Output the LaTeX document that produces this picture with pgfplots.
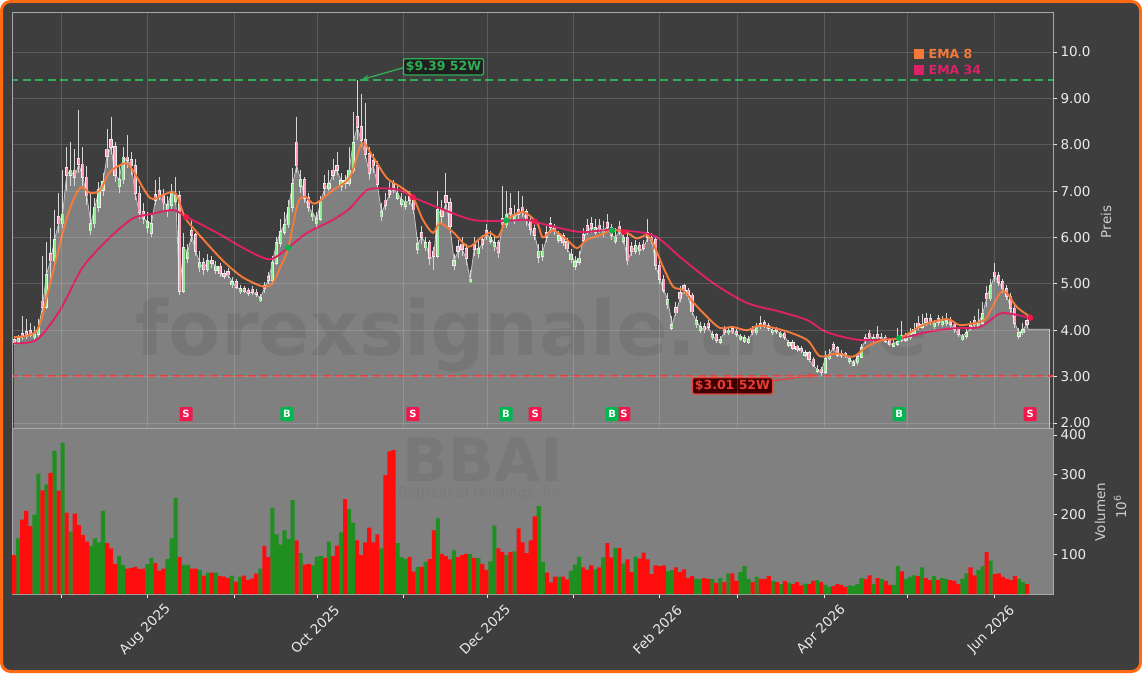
\documentclass[border=0pt]{standalone}
\usepackage{fontspec}
\setmainfont{DejaVu Sans}
\usepackage{pgfplots}
\usepackage{pgfplotstable}
\pgfplotsset{compat=1.18}
\usetikzlibrary{arrows.meta}
\definecolor{bgdark}{HTML}{3E3E3E}
\definecolor{frameorange}{HTML}{FF6A13}
\definecolor{areagray}{HTML}{808080}
\definecolor{arealine}{HTML}{C4C4C4}
\definecolor{wick}{HTML}{D6D6D6}
\definecolor{candleedge}{HTML}{EDEDED}
\definecolor{upbody}{HTML}{90EE90}
\definecolor{downbody}{HTML}{FF9CB6}
\definecolor{volgreen}{HTML}{1F8F1F}
\definecolor{volred}{HTML}{FF0D0D}
\definecolor{emaeight}{HTML}{F47A3A}
\definecolor{emathirtyfour}{HTML}{DC2166}
\definecolor{sigred}{HTML}{F0184D}
\definecolor{siggreen}{HTML}{00B74F}
\definecolor{hiline}{HTML}{2EAE55}
\definecolor{loline}{HTML}{E0443C}
\definecolor{ticktext}{HTML}{EBEBEB}
\definecolor{labeltext}{HTML}{CFCFCF}
\definecolor{spine}{HTML}{A8A8A8}
\definecolor{wmgray}{HTML}{404040}

\pgfplotstableread{
i o h l c v
0 3.80 3.85 3.68 3.74 98
1 3.74 3.90 3.70 3.82 140
2 3.92 4.30 3.80 3.86 187
3 3.96 4.25 3.82 3.88 209
4 3.98 4.15 3.85 3.90 171
5 3.84 4.10 3.80 3.91 200
6 3.91 4.25 3.85 4.05 303
7 4.62 5.60 4.40 4.50 261
8 4.50 5.90 4.45 5.20 276
9 5.65 6.20 5.10 5.50 305
10 5.50 6.60 5.40 5.95 360
11 6.45 6.95 6.10 6.30 260
12 6.30 7.45 6.20 6.50 381
13 7.50 7.95 7.00 7.35 205
14 7.35 8.05 7.10 7.45 157
15 7.45 7.90 7.10 7.30 202
16 7.70 8.75 7.40 7.58 173
17 7.58 7.95 7.10 7.30 148
18 7.30 7.55 6.70 6.90 132
19 6.15 6.95 6.05 6.30 121
20 6.30 6.85 6.20 6.65 140
21 6.65 7.20 6.55 7.02 130
22 7.02 7.40 6.90 7.20 209
23 7.90 8.35 7.50 7.75 128
24 8.10 8.60 7.80 7.95 115
25 7.95 8.05 7.20 7.35 76
26 7.10 7.55 6.95 7.25 96
27 7.25 7.95 7.15 7.73 73
28 7.73 8.20 7.50 7.67 64
29 7.67 7.85 7.35 7.55 66
30 7.55 7.70 6.80 6.95 68
31 6.95 7.10 6.40 6.55 63
32 6.55 6.75 6.30 6.42 64
33 6.22 6.55 6.10 6.34 76
34 6.10 6.50 6.00 6.30 91
35 6.92 7.25 6.70 6.80 78
36 7.00 7.30 6.80 6.90 59
37 6.90 7.05 6.60 6.75 64
38 6.58 6.90 6.45 6.70 88
39 6.70 7.15 6.60 6.96 140
40 6.78 7.30 6.70 6.90 242
41 6.90 7.00 4.75 4.85 93
42 4.85 6.10 4.80 5.78 73
43 5.55 5.85 5.45 5.68 73
44 6.15 6.40 5.90 6.05 64
45 6.05 6.10 5.60 5.70 64
46 5.35 5.70 5.25 5.45 61
47 5.45 5.55 5.20 5.32 46
48 5.32 5.65 5.25 5.50 54
49 5.50 5.60 5.35 5.45 54
50 5.30 5.50 5.22 5.38 54
51 5.38 5.45 5.15 5.22 45
52 5.22 5.30 5.10 5.17 44
53 5.26 5.35 5.12 5.20 40
54 4.98 5.15 4.92 5.05 46
55 5.05 5.10 4.88 4.93 31
56 4.83 4.98 4.78 4.89 44
57 4.89 4.95 4.80 4.85 46
58 4.85 4.92 4.74 4.80 35
59 4.88 4.95 4.76 4.82 39
60 4.82 4.88 4.72 4.78 51
61 4.64 4.78 4.60 4.70 64
62 4.96 5.05 4.80 4.90 121
63 5.15 5.25 5.00 5.08 93
64 5.08 5.60 5.02 5.45 217
65 5.45 6.00 5.40 5.88 150
66 5.88 6.40 5.80 6.12 124
67 6.12 6.55 6.05 6.28 160
68 6.28 6.80 6.20 6.65 139
69 6.65 7.50 6.55 7.15 237
70 8.05 8.60 7.40 7.55 135
71 7.10 7.45 6.95 7.25 103
72 7.25 7.30 6.75 6.85 74
73 6.85 6.95 6.55 6.65 76
74 6.45 6.70 6.35 6.52 72
75 6.30 6.55 6.20 6.40 94
76 6.40 6.90 6.35 6.78 95
77 7.15 7.35 6.90 7.07 91
78 7.07 7.45 7.00 7.15 132
79 7.45 7.70 7.25 7.35 95
80 7.55 7.85 7.35 7.45 122
81 7.10 7.40 7.00 7.22 155
82 7.22 7.35 7.05 7.17 239
83 7.17 7.95 7.10 7.45 214
84 7.45 8.70 7.40 8.04 179
85 8.60 9.39 8.10 8.38 135
86 8.38 9.10 7.95 8.10 98
87 8.10 8.90 7.70 7.80 130
88 7.80 7.95 7.25 7.38 167
89 7.65 7.80 7.40 7.55 130
90 7.55 7.65 7.05 7.15 150
91 6.45 6.75 6.35 6.55 115
92 6.80 6.95 6.60 6.70 299
93 7.00 7.20 6.85 6.93 359
94 7.15 7.25 6.95 7.05 362
95 6.85 7.10 6.80 6.95 128
96 6.72 6.95 6.65 6.82 93
97 6.68 6.90 6.60 6.76 88
98 6.90 7.00 6.70 6.80 93
99 6.80 6.88 6.50 6.60 56
100 5.75 6.00 5.65 5.87 68
101 6.10 6.25 5.85 6.00 68
102 5.78 6.00 5.70 5.88 81
103 5.88 5.95 5.40 5.55 88
104 5.70 5.80 5.30 5.60 160
105 5.60 7.00 5.55 6.60 190
106 6.60 6.80 6.30 6.46 101
107 6.90 7.40 6.60 6.75 95
108 6.75 6.85 6.10 6.25 87
109 5.40 5.65 5.30 5.50 110
110 5.80 5.95 5.55 5.70 93
111 5.85 6.00 5.60 5.75 98
112 5.75 5.85 5.40 5.55 101
113 5.05 5.30 5.02 5.10 101
114 5.85 6.00 5.60 5.75 91
115 5.65 5.95 5.55 5.75 91
116 5.95 6.05 5.75 5.85 76
117 6.15 6.30 5.95 6.07 61
118 5.92 6.15 5.85 6.00 82
119 5.80 6.05 5.70 5.88 172
120 5.88 5.95 5.55 5.68 115
121 6.40 7.10 6.15 6.28 106
122 6.28 7.00 6.20 6.50 98
123 6.62 6.95 6.40 6.52 106
124 6.38 6.70 6.30 6.46 107
125 6.60 7.00 6.40 6.50 165
126 6.65 6.90 6.45 6.55 130
127 6.55 6.62 6.25 6.36 103
128 6.36 6.45 6.05 6.18 135
129 6.18 6.30 5.95 6.05 195
130 5.58 5.85 5.45 5.70 221
131 5.60 5.85 5.50 5.70 81
132 6.10 6.25 5.90 6.00 54
133 6.30 6.45 6.10 6.22 29
134 6.22 6.30 6.05 6.16 44
135 5.95 6.15 5.88 6.04 44
136 6.04 6.10 5.82 5.90 44
137 5.90 5.98 5.68 5.76 37
138 5.52 5.75 5.45 5.62 58
139 5.38 5.60 5.30 5.47 74
140 5.47 5.70 5.40 5.55 94
141 6.05 6.20 5.85 5.94 67
142 6.25 6.40 6.05 6.16 61
143 6.30 6.45 6.10 6.20 72
144 6.12 6.40 6.05 6.21 62
145 6.26 6.40 6.10 6.19 67
146 6.08 6.35 6.00 6.16 92
147 6.32 6.50 6.15 6.22 128
148 6.22 6.30 5.95 6.05 92
149 5.92 6.20 5.85 6.00 116
150 6.24 6.35 6.05 6.14 116
151 5.92 6.15 5.85 6.00 77
152 6.00 6.10 5.40 5.50 87
153 5.80 5.90 5.60 5.70 55
154 5.70 5.95 5.65 5.82 94
155 5.82 5.90 5.62 5.72 89
156 5.85 5.95 5.70 5.77 104
157 6.10 6.40 5.90 6.00 87
158 6.00 6.10 5.85 5.95 50
159 5.95 6.00 5.30 5.40 72
160 5.40 5.50 5.00 5.10 70
161 5.10 5.20 4.80 4.87 72
162 4.55 4.80 4.45 4.65 57
163 4.05 4.30 4.00 4.12 60
164 4.48 4.60 4.30 4.38 67
165 4.80 4.95 4.60 4.68 55
166 4.95 5.00 4.78 4.86 62
167 4.86 4.92 4.65 4.75 40
168 4.75 4.80 4.32 4.40 45
169 4.12 4.30 4.05 4.20 38
170 4.00 4.18 3.95 4.08 38
171 4.08 4.15 3.95 4.01 40
172 4.15 4.22 4.00 4.07 38
173 3.84 3.98 3.80 3.90 38
174 3.90 3.95 3.72 3.78 28
175 3.74 3.88 3.70 3.80 40
176 4.02 4.10 3.90 3.95 30
177 3.95 4.08 3.90 4.00 52
178 4.03 4.07 3.92 3.97 52
179 3.97 4.02 3.86 3.91 33
180 3.80 3.92 3.76 3.87 55
181 3.77 3.90 3.72 3.83 70
182 3.74 3.88 3.70 3.80 38
183 4.02 4.10 3.90 3.95 30
184 3.95 4.15 3.90 4.07 43
185 4.14 4.30 4.02 4.08 38
186 4.16 4.22 4.05 4.10 38
187 4.10 4.15 3.98 4.05 45
188 3.95 4.08 3.90 4.00 33
189 4.04 4.08 3.92 3.98 30
190 3.88 3.98 3.84 3.93 25
191 3.93 3.97 3.80 3.85 33
192 3.68 3.80 3.64 3.73 28
193 3.73 3.78 3.58 3.62 25
194 3.65 3.68 3.54 3.59 30
195 3.60 3.65 3.52 3.56 22
196 3.46 3.58 3.42 3.51 26
197 3.51 3.56 3.32 3.37 25
198 3.37 3.42 3.20 3.24 33
199 3.12 3.25 3.08 3.16 35
200 3.16 3.20 3.01 3.10 30
201 3.10 3.55 3.06 3.39 23
202 3.39 3.60 3.35 3.47 18
203 3.68 3.75 3.55 3.62 20
204 3.62 3.66 3.42 3.47 25
205 3.50 3.58 3.40 3.46 23
206 3.50 3.54 3.40 3.45 18
207 3.33 3.45 3.28 3.38 22
208 3.25 3.36 3.22 3.30 20
209 3.30 3.50 3.26 3.42 25
210 3.42 3.70 3.40 3.62 40
211 3.85 3.92 3.70 3.78 38
212 3.93 4.00 3.80 3.86 47
213 3.78 3.92 3.74 3.84 25
214 3.90 4.10 3.80 3.84 40
215 3.80 3.95 3.76 3.85 38
216 3.85 3.90 3.72 3.77 33
217 3.77 3.80 3.65 3.69 23
218 3.66 3.80 3.63 3.72 23
219 3.70 4.05 3.66 3.75 70
220 3.88 4.20 3.74 3.78 57
221 3.78 3.95 3.74 3.84 38
222 3.84 4.05 3.80 3.93 43
223 3.93 4.15 3.88 4.01 47
224 4.15 4.30 4.00 4.07 45
225 4.07 4.35 4.02 4.12 67
226 4.25 4.38 4.10 4.17 40
227 4.25 4.35 4.12 4.17 35
228 4.08 4.22 4.03 4.15 45
229 4.25 4.32 4.10 4.17 35
230 4.12 4.30 4.08 4.19 40
231 4.14 4.38 4.10 4.21 38
232 4.21 4.28 4.05 4.13 35
233 4.13 4.18 3.95 4.02 33
234 4.02 4.06 3.85 3.92 25
235 3.80 3.92 3.76 3.87 38
236 3.87 4.05 3.82 3.95 52
237 4.10 4.20 3.98 4.04 67
238 4.20 4.30 4.05 4.12 47
239 4.08 4.45 4.04 4.16 60
240 4.16 4.60 4.12 4.35 70
241 4.78 4.95 4.50 4.68 106
242 4.68 5.10 4.62 4.95 84
243 5.25 5.45 5.05 5.17 50
244 5.17 5.25 4.95 5.04 52
245 5.04 5.10 4.80 4.90 43
246 4.90 4.98 4.65 4.73 38
247 4.73 4.80 4.35 4.47 35
248 4.47 4.55 4.05 4.15 45
249 3.88 4.05 3.82 3.95 38
250 3.95 4.15 3.90 4.01 30
251 4.20 4.30 4.05 4.13 25
}\ohlc

\pgfplotsset{
  commonx/.style={
    width=1041pt, scale only axis,
    xmin=-0.545, xmax=257.45,
    xtick={11.72,33.11,54.47,75.17,96.55,117.25,138.64,160.0,179.33,200.69,221.39,242.83},
    axis line style={draw=spine, line width=0.8pt},
    tick align=outside, major tick length=4pt,
    tick label style={font=\fontsize{13.5}{15}\selectfont, text=ticktext},
    ytick pos=right, yticklabel pos=right,
  },
  sigbox/.style={draw=none, mark=none, point meta=explicit symbolic, nodes near coords,
    every node near coord/.style={anchor=center, fill=#1, text=white,
      font=\bfseries\fontsize{10}{10}\selectfont, minimum width=13pt, minimum height=14pt,
      inner sep=0pt, rounded corners=1pt}},
  candlebar/.style 2 args={draw=none, mark=none, forget plot,
    error bars/.cd, y dir=plus, y explicit, error mark=none,
    error bar style={line width=#1, draw=#2, solid}},
}

\begin{document}
\begin{tikzpicture}
\useasboundingbox (0pt,0pt) rectangle (1142pt,673pt);
\fill[white] (0pt,0pt) rectangle (1142pt,673pt);
\draw[line width=3pt, draw=frameorange, fill=bgdark, rounded corners=9pt] (1.5pt,1.5pt) rectangle (1140.5pt,671.5pt);

% ---------------- price panel ----------------
\begin{axis}[commonx,
  at={(12pt,245pt)}, anchor=south west, height=416pt,
  ymin=1.892, ymax=10.862,
  axis background/.style={fill=bgdark},
  xticklabels={}, x tick style={draw=none},
  ytick={2,3,4,5,6,7,8,9,10},
  yticklabels={2.00,3.00,4.00,5.00,6.00,7.00,8.00,9.00,10.0},
  y tick style={draw=ticktext, line width=0.8pt},
  grid=major, major grid style={draw=white, draw opacity=0.15, line width=0.8pt},
  axis on top,
]
\addplot[fill=areagray, draw=none, forget plot] table[x=i, y=c] {\ohlc} \closedcycle;
\addplot[fill=areagray, draw=none, forget plot] coordinates {(251,0) (251,4.13) (251.3,4.02) (256.6,4.02) (256.6,0)} \closedcycle;
\node[anchor=base, font=\bfseries\fontsize{76}{76}\selectfont, text=wmgray, text opacity=0.14] at (axis cs:128.3,3.466) {forexsignale.trade};
\addplot[draw=arealine, line width=0.8pt, forget plot] table[x=i, y=c] {\ohlc};
\addplot[draw=arealine, line width=0.8pt, forget plot] coordinates {(251,4.13) (251.3,4.02) (256.6,4.02) (256.6,1.8)};

% 52-week lines
\addplot[draw=hiline, line width=1.6pt, dash pattern=on 8pt off 4.5pt, forget plot] coordinates {(-1,9.39) (260,9.39)};
\addplot[draw=loline, line width=1.6pt, dash pattern=on 8pt off 4.5pt, forget plot] coordinates {(-1,3.01) (260,3.01)};

% wicks
\addplot[candlebar={0.9pt}{wick}]
  table[x=i, y=l, y error expr=\thisrow{h}-\thisrow{l}] {\ohlc};
% body outlines
\addplot[candlebar={3.2pt}{candleedge}]
  table[x=i, y expr={min(\thisrow{o},\thisrow{c})-0.015}, y error expr={abs(\thisrow{c}-\thisrow{o})+0.03}] {\ohlc};
% up bodies
\addplot[candlebar={2.0pt}{upbody}]
  table[x=i, y expr={\thisrow{c}>=\thisrow{o} ? \thisrow{o} : nan}, y error expr={abs(\thisrow{c}-\thisrow{o})}] {\ohlc};
% down bodies
\addplot[candlebar={2.0pt}{downbody}]
  table[x=i, y expr={\thisrow{c}<\thisrow{o} ? \thisrow{c} : nan}, y error expr={abs(\thisrow{c}-\thisrow{o})}] {\ohlc};

% EMA 34
\addplot[draw=emathirtyfour, line width=1.9pt, smooth, forget plot] coordinates {
(0,3.72) (5.65,3.8) (11.4,4.44) (17.0,5.36) (23.7,6.0) (29.4,6.41) (33.7,6.5) (39.4,6.59) (42.8,6.44)
(50.3,6.1) (57.7,5.73) (63.4,5.53) (67.9,5.78) (72.6,6.1) (79.0,6.38) (83.2,6.63) (87.4,7.02)
(91.4,7.06) (95.6,7.02) (98.8,6.87) (105.5,6.63) (113.7,6.38) (121.9,6.36) (127.1,6.38) (132.0,6.27)
(140.2,6.12) (148.4,6.16) (158.3,6.05) (165.0,5.58) (173.2,5.02) (181.6,4.59) (189.8,4.4) (196.5,4.22)
(201.4,3.96) (209.6,3.79) (219.5,3.83) (226.2,3.96) (232.7,4.04) (239.3,4.07) (244.3,4.36) (248.5,4.33) (251.8,4.26)};
% EMA 8
\addplot[draw=emaeight, line width=1.9pt, smooth, forget plot] coordinates {
(0,3.85) (5.65,4.0) (8.87,5.0) (13.1,6.44) (16.3,7.07) (18.8,6.96) (21.3,7.02) (23.7,7.41) (27.5,7.6)
(29.4,7.45) (33.7,6.85) (36.9,6.92) (39.9,6.96) (42.3,6.44) (44.8,6.16) (51.5,5.52) (56.5,5.15)
(61.4,4.95) (63.9,5.0) (65.9,5.35) (67.9,5.77) (70.3,6.74) (72.1,6.88) (74.5,6.73) (79.0,7.02)
(83.2,7.3) (86.2,8.03) (88.9,7.74) (92.4,7.28) (95.6,7.1) (98.8,6.87) (101.3,6.38) (103.8,6.1)
(105.5,6.31) (108.7,6.12) (112.5,5.8) (115.4,5.98) (117.9,6.1) (119.9,6.01) (122.1,6.38) (126.1,6.55)
(129.6,6.31) (131.0,6.0) (133.5,6.16) (137.0,5.95) (139.5,5.77) (141.9,5.95) (145.2,6.05) (148.4,6.16)
(151.9,6.1) (154.3,5.98) (156.8,6.05) (158.3,5.88) (160.8,5.37) (163.3,4.94) (165.7,4.87) (168.2,4.61)
(171.7,4.29) (174.9,4.05) (178.1,4.07) (181.6,4.0) (184.8,4.1) (190.5,4.0) (196.5,3.79) (199.7,3.44)
(203.9,3.5) (207.9,3.43) (211.4,3.65) (215.3,3.79) (219.5,3.83) (225.2,4.11) (231.2,4.24) (234.4,4.11)
(239.3,4.18) (241.1,4.29) (244.3,4.8) (246.0,4.8) (248.5,4.5) (251.8,4.29)};

% crossing dots
\addplot[only marks, mark=*, mark size=2.8pt, color=sigred, forget plot] coordinates {
(42.6,6.44) (98.8,6.87) (129.1,6.34) (151.1,6.12) (251.8,4.27)};
\addplot[only marks, mark=*, mark size=2.8pt, color=siggreen, forget plot] coordinates {
(67.9,5.78) (121.9,6.37) (148.2,6.15) (219.3,3.83)};

% signal boxes
\addplot[sigbox=sigred, forget plot] coordinates {
(42.6,2.19) [S] (98.8,2.19) [S] (129.1,2.19) [S] (151.1,2.19) [S] (251.8,2.19) [S]};
\addplot[sigbox=siggreen, forget plot] coordinates {
(67.6,2.19) [B] (121.9,2.19) [B] (148.2,2.19) [B] (219.3,2.19) [B]};

% 52W annotations
\draw[-{Stealth[length=8pt,width=6pt]}, draw=hiline, fill=hiline, line width=1.3pt] (axis cs:96.4,9.66) -- (axis cs:86.0,9.40);
\node[draw=hiline, line width=1.3pt, fill=black!88, text=hiline, rounded corners=2pt,
  font=\bfseries\fontsize{12.5}{14}\selectfont, inner sep=2.5pt] at (axis cs:106.4,9.68) {\$9.39 52W};
\draw[-{Stealth[length=8pt,width=6pt]}, draw=loline, fill=loline, line width=1.3pt] (axis cs:188.1,2.91) -- (axis cs:198.5,3.035);
\node[draw=loline, line width=1.3pt, fill=red!25!black, text=loline!90!red, rounded corners=2pt,
  font=\bfseries\fontsize{12.5}{14}\selectfont, inner sep=2.5pt] at (axis cs:178.0,2.80) {\$3.01 52W};
\end{axis}

% ---------------- volume panel ----------------
\begin{axis}[commonx,
  at={(12pt,79pt)}, anchor=south west, height=166pt,
  ymin=0, ymax=417.6,
  axis background/.style={fill=areagray},
  xticklabels={,Aug 2025,,Oct 2025,,Dec 2025,,Feb 2026,,Apr 2026,,Jun 2026},
  xtick pos=left,
  ytick={100,200,300,400}, yticklabels={100,200,300,400},
  tick style={draw=ticktext, line width=0.8pt},
  xticklabel style={rotate=45, anchor=center, xshift=-24pt, yshift=-20.6pt},
]
\node[anchor=base, font=\bfseries\fontsize{60}{60}\selectfont, text=wmgray, text opacity=0.12] at (axis cs:116.2,281.8) {BBAI};
\node[anchor=base, font=\fontsize{14}{16}\selectfont, text=wmgray, text opacity=0.09] at (axis cs:116.2,244) {BigBear.ai Holdings, Inc.};
\addplot[ybar, bar width=1.02, bar shift=0pt, fill=volgreen, draw=none, forget plot]
  table[x=i, y expr={\thisrow{c}>=\thisrow{o} ? \thisrow{v} : nan}] {\ohlc};
\addplot[ybar, bar width=1.02, bar shift=0pt, fill=volred, draw=none, forget plot]
  table[x=i, y expr={\thisrow{c}<\thisrow{o} ? \thisrow{v} : nan}] {\ohlc};
\end{axis}

% labels and legend
\node[rotate=90, font=\fontsize{13.5}{15}\selectfont, text=labeltext] at (1106pt,451pt) {Preis};
\node[rotate=90, font=\fontsize{13.5}{15}\selectfont, text=labeltext] at (1100pt,161pt) {Volumen};
\node[rotate=90, font=\fontsize{13.5}{15}\selectfont, text=labeltext] at (1120pt,166pt) {10\textsuperscript{6}};
\node[anchor=west, font=\bfseries\fontsize{12.5}{14}\selectfont, text=emaeight, inner sep=0pt] at (914pt,619pt) {\rule[-0.5pt]{9.5pt}{9.5pt}\hspace{5pt}EMA 8};
\node[anchor=west, font=\bfseries\fontsize{12.5}{14}\selectfont, text=emathirtyfour, inner sep=0pt] at (914pt,603pt) {\rule[-0.5pt]{9.5pt}{9.5pt}\hspace{5pt}EMA 34};
\end{tikzpicture}
\end{document}
